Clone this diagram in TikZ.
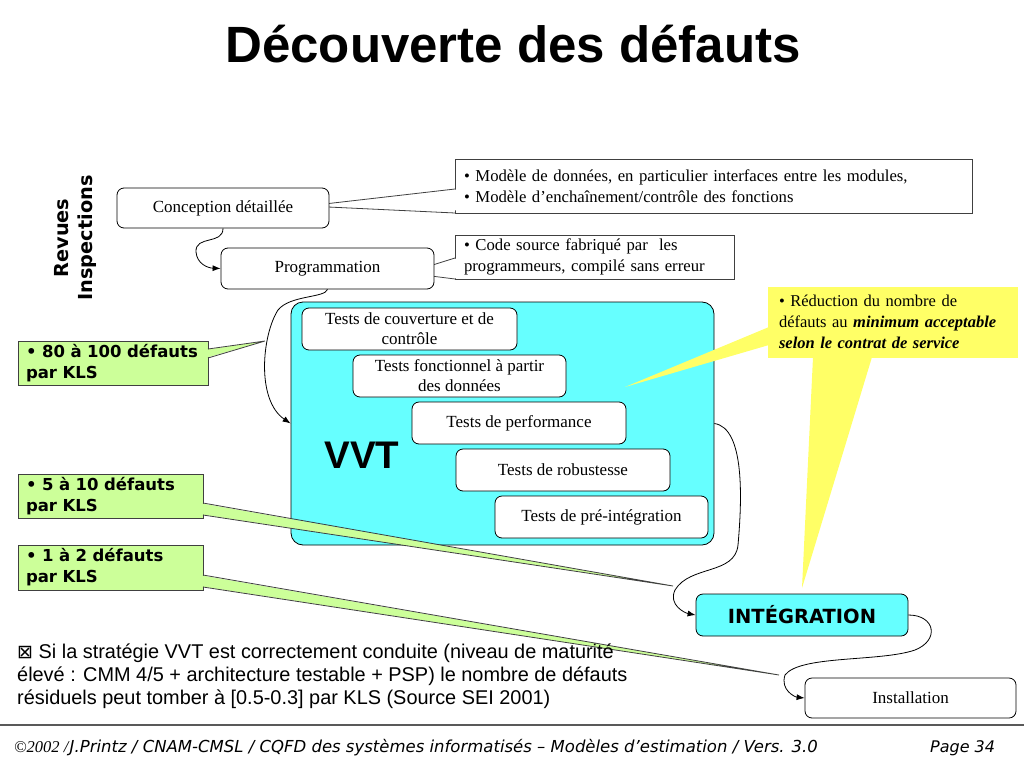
\documentclass[tikz,border=0pt]{standalone}
\usepackage{fontspec}
\setmainfont{Liberation Serif}
\setsansfont{Liberation Sans}
\newfontfamily\dejavu{DejaVu Sans}
\newfontfamily\dejavub{DejaVu Sans}[BoldFont={DejaVu Sans Bold}]
\usetikzlibrary{arrows.meta}
\definecolor{vvtcyan}{RGB}{102,255,255}
\definecolor{kgreen}{RGB}{204,255,153}
\definecolor{kyellow}{RGB}{255,255,102}
\newcommand{\fsz}[2]{\fontsize{#1}{#2}\selectfont}
\begin{document}
\begin{tikzpicture}[x=1pt,y=-1pt,
  rbox/.style={draw=black, fill=white, rounded corners=7pt, line width=0.8pt, inner sep=0pt, align=center, font=\fsz{17}{20}},
  callout/.style={draw=black!75, fill=white, line width=0.8pt, inner sep=0pt, align=left, font=\fsz{16.7}{20.5}},
  gbox/.style={draw=black!75, fill=kgreen, line width=0.8pt, inner sep=0pt, align=left, font=\dejavub\bfseries\fsz{16.5}{21}},
  ptr/.style={draw=black!75, line width=0.8pt},
  conn/.style={line width=0.8pt, -{Latex[length=8pt,width=6pt]}},
]
\useasboundingbox (0,0) rectangle (1024,768);

% title
\node[font=\sffamily\bfseries\fsz{51}{60}] (title) at (513,44) {Découverte des défauts};

% side label
\node[rotate=90, align=center, font=\dejavub\bfseries\fsz{19.3}{24}] (revues) at (75,238) {Revues\\Inspections};

% top callouts
\node[callout, minimum width=517pt, minimum height=54pt, text width=499pt] (c1) at (713.5,186)
  {• Modèle de données, en particulier interfaces entre les modules,\\• Modèle d’enchaînement/contrôle des fonctions};
\coordinate (c1tip) at (307,206);
\fill[white] (456.5,189.5) -- (c1tip) -- (456.5,210.5) -- cycle;
\draw[ptr] (455,189) -- (c1tip) -- (455,213);

\node[callout, minimum width=279pt, minimum height=44pt, text width=261pt] (c2) at (594.5,257)
  {• Code source fabriqué par~ les\\programmeurs, compilé sans erreur};
\coordinate (c2tip) at (407,273);
\fill[white] (456.5,258.5) -- (c2tip) -- (456.5,278.5) -- cycle;
\draw[ptr] (455,258) -- (c2tip) -- (455,279);

% process boxes
\node[rbox, minimum width=212pt, minimum height=40pt] (concep) at (223,208) {Conception détaillée};
\node[rbox, minimum width=213pt, minimum height=41pt] (prog) at (327.5,268.5) {Programmation};

% VVT block
\node[draw=black, fill=vvtcyan, rounded corners=12pt, line width=0.8pt, minimum width=423pt, minimum height=243pt, inner sep=0pt] (vvt) at (502.5,423.5) {};
\node[rbox, minimum width=215pt, minimum height=42pt] (t1) at (409.5,329) {Tests de couverture et de\\contrôle};
\node[rbox, minimum width=213pt, minimum height=42pt] (t2) at (459.5,376) {Tests fonctionnel à partir\\des données};
\node[rbox, minimum width=214pt, minimum height=42pt] (t3) at (519,423) {Tests de performance};
\node[rbox, minimum width=214pt, minimum height=42pt] (t4) at (563,470) {Tests de robustesse};
\node[rbox, minimum width=213pt, minimum height=42pt] (t5) at (601.5,517) {Tests de pré-intégration};
\node[font=\sffamily\bfseries\fsz{38.5}{40}] (vvtlab) at (362,455) {VVT};

% yellow callout
\node[fill=kyellow, minimum width=250pt, minimum height=71pt, inner sep=0pt, text width=228pt, align=left, font=\fsz{16.5}{21}] (y1) at (893,322)
  {• Réduction du nombre de\\défauts au \textbf{\textit{minimum acceptable}}\\\textbf{\textit{selon le contrat de service}}};
\coordinate (y1tipa) at (625,387);
\coordinate (y1tipb) at (802,588);
\fill[kyellow] (769,327) -- (y1tipa) -- (769,345) -- cycle;
\fill[kyellow] (813,357) -- (y1tipb) -- (872,357) -- cycle;

% integration / installation
\node[draw=black, fill=vvtcyan, rounded corners=7pt, line width=0.8pt, minimum width=212pt, minimum height=42pt, inner sep=0pt, font=\dejavub\bfseries\fsz{19.5}{22}] (integ) at (802,615) {INTÉGRATION};
\node[rbox, minimum width=211pt, minimum height=40pt] (inst) at (910.5,698) {Installation};

% green callouts
\node[gbox, minimum width=190pt, minimum height=44pt, text width=174pt] (g1) at (113,363) {• 80 à 100 défauts\\par KLS};
\coordinate (g1tip) at (265,341);
\fill[kgreen] (207,349.5) -- (g1tip) -- (207,357.5) -- cycle;
\draw[ptr] (208,349) -- (g1tip) -- (208,358);

\node[gbox, minimum width=185pt, minimum height=44pt, text width=169pt] (g2) at (110.5,496) {• 5 à 10 défauts\\par KLS};
\coordinate (g2tip) at (673,586);
\fill[kgreen] (202,503.5) -- (g2tip) -- (202,514.5) -- cycle;
\draw[ptr] (203,503) -- (g2tip) -- (203,515);

\node[gbox, minimum width=185pt, minimum height=45pt, text width=169pt] (g3) at (110.5,567.5) {• 1 à 2 défauts\\par KLS};
\coordinate (g3tip) at (779,675);
\fill[kgreen] (202,575.5) -- (g3tip) -- (202,586.5) -- cycle;
\draw[ptr] (203,575) -- (g3tip) -- (203,587);

% connectors
\draw[conn] (concep.south) .. controls (223,245) and (195,235) .. (196,252) .. controls (197,264) and (208,268) .. (prog.west);
\draw[conn] (prog.south) .. controls (325,298) and (290,295) .. (278,310) .. controls (262,335) and (256,400) .. (vvt.west);
\draw[conn] (vvt.east) .. controls (745,428) and (742,500) .. (738,545) .. controls (735,575) and (690,565) .. (675,590) .. controls (668,605) and (685,613) .. (integ.west);
\draw[conn] (integ.east) .. controls (935,615) and (940,640) .. (915,650) .. controls (880,662) and (800,655) .. (785,675) .. controls (780,690) and (795,697) .. (inst.west);

% bottom note
\node[anchor=north west, inner sep=0pt, align=left, font=\sffamily\fsz{19.9}{23}] (note) at (17,644)
  {{\dejavu\fsz{19}{23}⊠} Si la stratégie VVT est correctement conduite (niveau de maturité\\élevé : CMM 4/5 + architecture testable + PSP) le nombre de défauts\\résiduels peut tomber à [0.5-0.3] par KLS (Source SEI 2001)};

% footer
\draw[black!65, line width=1.6pt] (0,725) -- (1024,725);
\node[anchor=west, inner sep=0pt, font=\fsz{16.5}{18}] (foot) at (14,748)
  {\textit{©2002 /}\dejavu\itshape J.Printz / CNAM-CMSL / CQFD des systèmes informatisés – Modèles d’estimation / Vers. 3.0};
\node[anchor=west, inner sep=0pt, font=\dejavu\itshape\fsz{16}{18}] (page) at (930,748) {Page 34};
\end{tikzpicture}
\end{document}
